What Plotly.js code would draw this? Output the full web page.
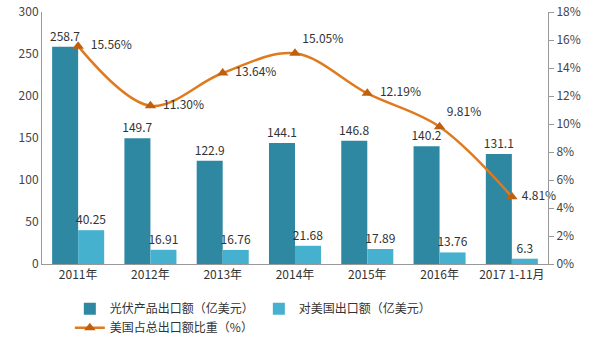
<!DOCTYPE html>
<html><head><meta charset="utf-8">
<script src="https://cdn.plot.ly/plotly-3.0.1.min.js"></script>
<style>html,body{margin:0;padding:0;background:#fff}#c{width:600px;height:354px}</style>
</head><body><div id="c"></div>
<script>
const categories = ["2011年","2012年","2013年","2014年","2015年","2016年","2017 1-11月"];
const pvExport = [258.7,149.7,122.9,144.1,146.8,140.2,131.1];
const usExport = [40.25,16.91,16.76,21.68,17.89,13.76,6.3];
const usShare = [15.56,11.30,13.64,15.05,12.19,9.81,4.81];
const shareLabels = ["  15.56%","  11.30%","  13.64%","15.05%","  12.19%","9.81%"," 4.81%"];
const pvLabels = ["258.7","149.7","122.9","144.1","146.8","140.2","131.1"];
const usLabels = ["40.25","16.91","16.76","21.68","17.89","13.76","6.3"];

const font = "'Noto Sans CJK SC', 'Noto Sans', sans-serif";
const traces = [
  {type:'bar', name:'光伏产品出口额（亿美元）', x:categories, y:pvExport, text:pvLabels,
   textposition:'outside', constraintext:'none', textfont:{size:12,color:'#333'}, cliponaxis:false,
   marker:{color:'#2E88A2'}},
  {type:'bar', name:'对美国出口额（亿美元）', x:categories, y:usExport, text:usLabels,
   textposition:'outside', constraintext:'none', textfont:{size:12,color:'#333'}, cliponaxis:false,
   marker:{color:'#46B0CF'}},
  {type:'scatter', mode:'lines+markers+text', name:'美国占总出口额比重（%）', x:categories, y:usShare,
   yaxis:'y2', text:shareLabels,
   textposition:['middle right','middle right','middle right','top right','middle right','top right','middle right'],
   textfont:{size:12,color:'#333'}, cliponaxis:false,
   line:{color:'#E07A1F', width:2.5, shape:'spline', smoothing:1},
   marker:{symbol:'triangle-up', size:10, color:'#C0600F'}}
];
const layout = {
  width:600, height:354, margin:{l:42,r:52,t:12,b:90,autoexpand:false},
  paper_bgcolor:'#fff', plot_bgcolor:'#fff',
  font:{family:font, size:12, color:'#444'},
  barmode:'group', bargap:0.28, bargroupgap:0,
  showlegend:true,
  legend:{orientation:'h', x:0.055, y:-0.12, xanchor:'left', yanchor:'top',
          font:{size:12,color:'#333'}, traceorder:'normal', tracegroupgap:0},
  xaxis:{showline:true, linecolor:'#999', linewidth:1, ticks:'', tickfont:{size:12,color:'#333'},
         showgrid:false, zeroline:false},
  yaxis:{range:[0,300], dtick:50, showline:true, linecolor:'#999', linewidth:1, ticks:'',
         showgrid:false, zeroline:false, tickfont:{size:12,color:'#444'}},
  yaxis2:{range:[0,18], dtick:2, ticksuffix:'%', overlaying:'y', side:'right', showline:true,
          linecolor:'#999', linewidth:1, ticks:'outside', ticklen:5, tickcolor:'#999',
          showgrid:false, zeroline:false, tickfont:{size:12,color:'#444'}}
};
Plotly.newPlot('c', traces, layout, {displayModeBar:false, staticPlot:true});
</script></body></html>
